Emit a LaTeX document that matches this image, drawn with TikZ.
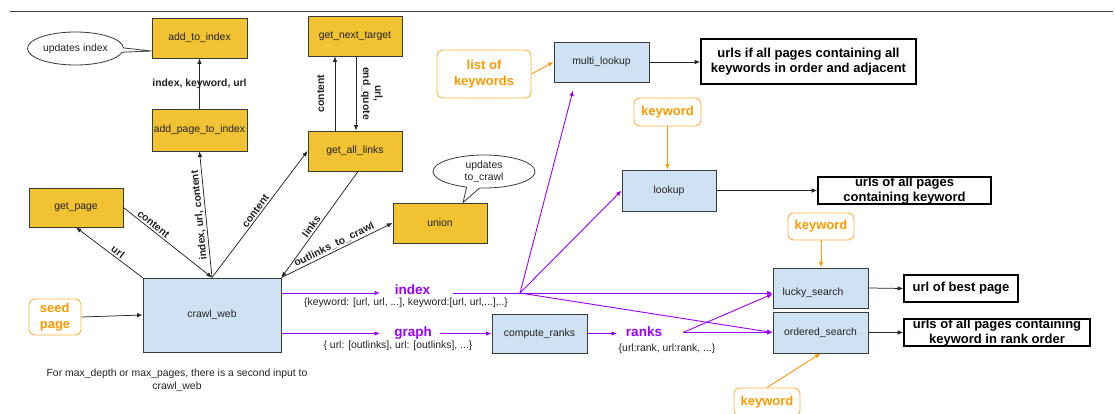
\documentclass[tikz,border=0pt]{standalone}
\usepackage{fontspec}
\setmainfont{Liberation Sans}
\usetikzlibrary{arrows.meta,shapes.callouts,calc}
\definecolor{gold}{HTML}{F1C232}
\definecolor{paleblue}{HTML}{CFE2F3}
\definecolor{boxline}{HTML}{3A3A3A}
\definecolor{tang}{HTML}{FF9900}
\definecolor{vio}{HTML}{9900FF}
\definecolor{ink}{HTML}{222222}
\begin{document}
\begin{tikzpicture}[x=1pt,y=-1pt,
  basefont/.style={font=\fontsize{10.4}{12.5}\selectfont, text=ink},
  ybox/.style={basefont, draw=boxline, fill=gold, line width=0.9pt, inner sep=0pt},
  bbox/.style={basefont, draw=boxline, fill=paleblue, line width=0.9pt, inner sep=0pt},
  tagbox/.style={draw=tang!75, fill=white, rounded corners=6pt, line width=0.9pt,
    text=tang, font=\bfseries\fontsize{13}{16}\selectfont, inner sep=0pt, align=center},
  resbox/.style={draw=black, fill=white, line width=1.6pt, text=black,
    font=\bfseries\fontsize{13}{14.5}\selectfont, inner xsep=0pt, inner ysep=0pt, align=center},
  callnote/.style={ellipse callout, draw=boxline, fill=white, line width=0.8pt,
    basefont, inner sep=0pt, align=center, font=\fontsize{10.4}{12}\selectfont},
  elbl/.style={font=\bfseries\fontsize{10.4}{12}\selectfont, text=ink, inner sep=1.5pt, align=center},
  plabel/.style={text=vio, font=\bfseries\fontsize{13.5}{15}\selectfont, inner sep=0pt},
  note/.style={font=\fontsize{10.4}{13}\selectfont, text=ink, inner sep=0pt, align=center},
  conn/.style={-{Latex[length=5.5pt,width=4.5pt]}, draw=black!85, line width=0.75pt},
  pconn/.style={-{Latex[length=5.5pt,width=4.5pt]}, draw=vio, line width=0.9pt},
  pline/.style={draw=vio, line width=0.9pt},
  oconn/.style={-{Latex[length=5.5pt,width=4.5pt]}, draw=tang, line width=0.9pt}]

\useasboundingbox (0,0) rectangle (1115,414);
\fill[white] (0,0) rectangle (1115,414);

% header rule
\draw[line width=0.8pt, black!75] (10,11) -- (1113,11);

% crawler functions
\node[ybox, minimum width=95pt, minimum height=40pt] (addidx)   at (199.5,38)  {add\_to\_index};
\node[ybox, minimum width=95pt, minimum height=42pt] (addpage)  at (199.5,130)  {add\_page\_to\_index};
\node[ybox, minimum width=94pt, minimum height=40pt] (nexttgt)  at (355,36)    {get\_next\_target};
\node[ybox, minimum width=94pt, minimum height=40pt] (alllinks) at (355,151)   {get\_all\_links};
\node[ybox, minimum width=94pt, minimum height=39pt] (getpage)  at (76,207.5)  {get\_page};
\node[ybox, minimum width=94pt, minimum height=40pt] (union)    at (440,223)   {union};
\node[bbox, minimum width=138pt, minimum height=74pt] (crawl)   at (212,315)   {crawl\_web};

% inputs
\node[tagbox, minimum width=52pt, minimum height=36pt, align=left] (seed) at (55,317) {seed\\page};
\node[tagbox, minimum width=94pt, minimum height=48pt] (keylist) at (484,74) {list of\\keywords};
\node[tagbox, minimum width=67pt, minimum height=28pt] (kw1) at (667.5,112) {keyword};
\node[tagbox, minimum width=66pt, minimum height=27pt] (kw2) at (821,226.5) {keyword};
\node[tagbox, minimum width=66pt, minimum height=28pt] (kw3) at (767,402) {keyword};

% search functions
\node[bbox, minimum width=95pt, minimum height=40pt] (mlookup) at (601.5,62) {multi\_lookup};
\node[bbox, minimum width=94pt, minimum height=41pt] (lookup)  at (669,190.5) {lookup};
\node[bbox, minimum width=95pt, minimum height=40pt,
      label={[basefont, inner sep=0pt, shift={(-7.5pt,-5pt)}]center:lucky\_search}] (lucky) at (820.5,288) {};
\node[bbox, minimum width=95pt, minimum height=41pt] (ordered) at (820.5,332.5) {ordered\_search};
\node[bbox, minimum width=95pt, minimum height=39pt] (ranks)   at (539.5,333.5) {compute\_ranks};

% results
\node[resbox, minimum width=215pt, minimum height=45pt] (out1) at (808.5,61.5) {urls if all pages containing all\\keywords in order and adjacent};
\node[resbox, minimum width=173pt, minimum height=27pt] (out2) at (904.5,190.5) {urls of all pages\\containing keyword};
\node[resbox, minimum width=114pt, minimum height=27pt] (out3) at (961,288.5) {url of best page};
\node[resbox, minimum width=186pt, minimum height=27pt] (out4) at (997,332.5) {urls of all pages containing\\keyword in rank order};

% callouts
\node[callnote, minimum width=96pt, minimum height=33pt,
      callout absolute pointer={([yshift=-13pt]addidx.west)}] (noteidx) at (75.5,48.5) {updates index};
\node[callnote, minimum width=102pt, minimum height=33pt,
      callout absolute pointer={([xshift=23pt]union.north)}] (notecrawl) at (484,171.5) {updates\\to\_crawl};

% data structures
\node[plabel, anchor=base] (idx) at (412.5,294) {index};
\node[plabel, anchor=base] (grp) at (413,336) {graph};
\node[plabel, anchor=base] (rk)  at (644,336.5) {ranks};
\node[note] (idxdesc) at (406,303) {\{keyword: [url, url, ...], keyword:[url, url,...],..\}};
\node[note] (grpdesc) at (398,346) {\{ url: [outlinks], url: [outlinks], ...\}};
\node[note] (rkdesc)  at (667,349) {\{url:rank, url:rank, ...\}};
\node[note] (footer)  at (177,380.5) {For max\_depth or max\_pages, there is a second input to\\crawl\_web};

% crawler connectors
\draw[conn] (addpage.north) -- node[elbl] {index, keyword, url} (addidx.south);
\draw[conn] ([xshift=-20pt]alllinks.north) -- node[elbl, sloped, above=9pt] {content} ([xshift=-20pt]nexttgt.south);
\draw[conn] ([xshift=1pt]nexttgt.south) -- node[elbl, sloped, above=3pt] {url,\\end\_quote} ([xshift=1pt]alllinks.north);
\draw[conn] (crawl.north west) -- node[elbl, sloped, above, pos=0.42] {url} (getpage.south);
\draw[conn] (getpage.east) -- node[elbl, sloped, above, pos=0.3] {content} (crawl.north);
\draw[conn] (crawl.north) -- node[elbl, sloped, allow upside down, above, midway] {index, url, content} (addpage.south);
\draw[conn] (crawl.north) -- node[elbl, sloped, above, midway] {content} (alllinks.west);
\draw[conn] ([xshift=3pt]alllinks.south) -- node[elbl, sloped, above, pos=0.55] {links} (crawl.north east);
\draw[conn] (crawl.north east) -- node[elbl, sloped, above, midway] {outlinks\_to\_crawl} (union.west);
\draw[conn] (seed.east) -- (crawl.west);

% data flow
\coordinate (idxin)  at (380,293);
\coordinate (idxout) at (453,293);
\coordinate (jn)     at (520,293);
\coordinate (grpin)  at (380,333.5);
\coordinate (grpout) at (440,333.5);
\coordinate (rkin)   at (617,333.5);
\coordinate (rkout)  at (683,332.5);
\draw[pconn] ([yshift=22pt]crawl.east) -- (idxin);
\draw[pline] (idxout) -- (jn);
\draw[pconn] (jn) -- ([shift={(-28.5pt,-8pt)}]mlookup.south);
\draw[pconn] (jn) -- (lookup.west);
\draw[pconn] (jn) -- (lucky.west |- jn);
\draw[pconn] (jn) -- (ordered.west);
\draw[pconn] ([yshift=-18.5pt]crawl.east) -- (grpin);
\draw[pconn] (grpout) -- (ranks.west);
\draw[pconn] (ranks.east) -- (rkin);
\draw[pconn] (rkout) -- ([yshift=-6pt]lucky.west);
\draw[pconn] (rkout) -- (ordered.west);

% keyword inputs
\draw[oconn] (keylist.east) -- (mlookup.west);
\draw[oconn] (kw1.south) -- (kw1.south |- lookup.north);
\draw[oconn] (kw2.south) -- (kw2.south |- lucky.north);
\draw[oconn] (kw3.north) -- (ordered.south);

% outputs
\draw[conn] (mlookup.east) -- (out1.west |- mlookup.east);
\draw[conn] (lookup.east) -- (out2.west);
\draw[conn] (lucky.east) -- (out3.west);
\draw[conn] (ordered.east) -- (out4.west);
\end{tikzpicture}
\end{document}
